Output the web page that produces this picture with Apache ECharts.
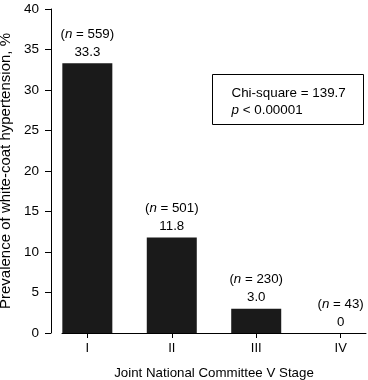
<!DOCTYPE html>
<html><head><meta charset="utf-8">
<script src="https://cdn.jsdelivr.net/npm/echarts@6/dist/echarts.min.js"></script>
<style>html,body{margin:0;padding:0;background:#fff}#c{width:368px;height:380px}</style>
</head><body><div id="c"></div>
<script>
const categories = ['I', 'II', 'III', 'IV'];
const values = [33.3, 11.8, 3.0, 0];
const valueLabels = ['33.3', '11.8', '3.0', '0'];
const nCounts = [559, 501, 230, 43];
const positions = [1, 2, 3, 4];

const FONT = '"Liberation Sans", Arial, Helvetica, sans-serif';
const chart = echarts.init(document.getElementById('c'), null, {renderer: 'canvas'});
const data = positions.map((p, i) => [p, values[i]]);

chart.setOption({
  animation: false,
  textStyle: {fontFamily: FONT},
  grid: {left: 62, right: 2, top: 9, bottom: 47, containLabel: false, outerBoundsMode: 'none'},
  xAxis: {
    type: 'value', min: 0.7, max: 4.3,
    splitLine: {show: false},
    axisLine: {show: true, lineStyle: {color: '#000', width: 1}},
    axisTick: {show: true, length: 5, lineStyle: {color: '#000'}, customValues: positions},
    axisLabel: {color: '#000', fontSize: 13, fontFamily: FONT, margin: 9, customValues: positions,
      formatter: v => categories[Math.round(v) - 1] || ''},
    name: 'Joint National Committee V Stage', nameLocation: 'middle', nameGap: 34,
    nameTextStyle: {color: '#000', fontSize: 13.3, fontFamily: FONT}
  },
  yAxis: {
    type: 'value', min: 0, max: 40, interval: 5, offset: 11,
    splitLine: {show: false},
    axisLine: {show: true, lineStyle: {color: '#000', width: 1}},
    axisTick: {show: true, length: 6, lineStyle: {color: '#000'}},
    axisLabel: {color: '#000', fontSize: 13.5, fontFamily: FONT, margin: 12},
    name: 'Prevalence of white-coat hypertension, %', nameLocation: 'middle', nameGap: 29,
    nameTextStyle: {color: '#000', fontSize: 15, fontFamily: FONT}
  },
  series: [{
    type: 'bar', data: data, barWidth: 50,
    itemStyle: {color: '#1a1a1a'},
    label: {
      show: true, position: 'top', distance: 2, color: '#000', fontSize: 13,
      formatter: p => '{t|(}{i|n}{t| = ' + nCounts[p.dataIndex] + ')}\n{t|' + valueLabels[p.dataIndex] + '}',
      rich: {
        t: {fontSize: 13.3, fontFamily: FONT, color: '#000', lineHeight: 18},
        i: {fontSize: 13.3, fontFamily: FONT, fontStyle: 'italic', color: '#000', lineHeight: 18}
      }
    }
  }],
  graphic: [{
    type: 'group', left: 212, top: 74,
    children: [
      {type: 'rect', shape: {x: 0, y: 0, width: 151, height: 50}, style: {fill: '#fff', stroke: '#000', lineWidth: 1}},
      {type: 'text', x: 19, y: 12, style: {text: 'Chi-square = 139.7', font: '13.4px ' + FONT, fill: '#000'}},
      {type: 'text', x: 19, y: 29, style: {
        text: '{i|p}{t| < 0.00001}', fill: '#000',
        rich: {i: {fontSize: 13.4, fontFamily: FONT, fontStyle: 'italic'}, t: {fontSize: 13.4, fontFamily: FONT}}
      }}
    ]
  }]
});
</script></body></html>
